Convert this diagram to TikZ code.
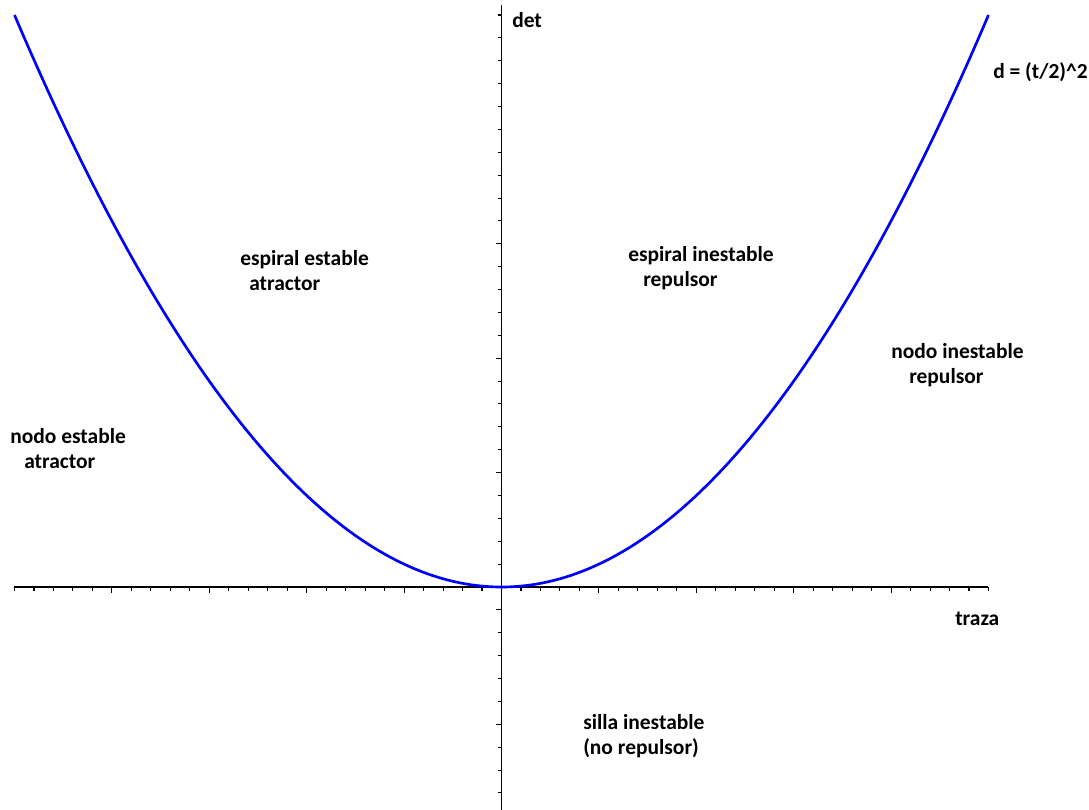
\documentclass[tikz,border=0pt]{standalone}
\usepackage{fontspec}
\setmainfont{Carlito}
\begin{document}
\begin{tikzpicture}[x=0.75pt,y=-0.75pt,
  lbl/.style={anchor=base west,inner sep=0pt,font=\fontsize{16.1}{19}\selectfont\bfseries,text=black},
  axis/.style={line width=1.1pt,black},
  tick/.style={line width=0.8pt,black}]
\useasboundingbox[fill=white] (0,0) rectangle (1089,810);
% axes
\coordinate (xl) at (14,587);
\coordinate (xr) at (988,587);
\coordinate (yt) at (501.5,5);
\coordinate (yb) at (501.5,810);
\draw[axis] (xl) -- (xr);
\draw[axis] (yt) -- (yb);
% horizontal ticks
\foreach \i in {-25,...,25}{
  \pgfmathsetmacro{\tx}{501.5+19.48*\i}
  \draw[tick] (\tx,587) -- (\tx,591);
}
\foreach \i in {-20,-15,-10,-5,5,10,15,20}{
  \pgfmathsetmacro{\tx}{501.5+19.48*\i}
  \draw[tick] (\tx,587) -- (\tx,593);
}
% vertical ticks
\foreach \j in {-9,...,25}{
  \pgfmathsetmacro{\ty}{587-22.88*\j}
  \draw[tick] (497.5,\ty) -- (501.5,\ty);
}
\foreach \j in {15,10,5,-1,-6}{
  \pgfmathsetmacro{\ty}{587-22.88*\j}
  \draw[tick] (495.5,\ty) -- (501.5,\ty);
}
% parabola d=(t/2)^2
\draw[line width=2pt,color={rgb,255:red,0;green,0;blue,255},domain=-487:487,samples=241,smooth]
  plot ({501.5+\x},{587-572*(\x/487)*(\x/487)});
% labels
\node[lbl] (det) at (512,27) {det};
\node[lbl] (eq) at (993,78) {d = (t/2)\^{}2};
\node[lbl] (ee1) at (240,265) {espiral estable};
\node[lbl] (ee2) at (249,290) {atractor};
\node[lbl] (ei1) at (628,261) {espiral inestable};
\node[lbl] (ei2) at (643,286) {repulsor};
\node[lbl] (ni1) at (891,358) {nodo inestable};
\node[lbl] (ni2) at (909,383) {repulsor};
\node[lbl] (ne1) at (10,443) {nodo estable};
\node[lbl] (ne2) at (24,468) {atractor};
\node[lbl] (tr) at (955,625) {traza};
\node[lbl] (si1) at (583,729) {silla inestable};
\node[lbl] (si2) at (583,754) {(no repulsor)};
\end{tikzpicture}
\end{document}
